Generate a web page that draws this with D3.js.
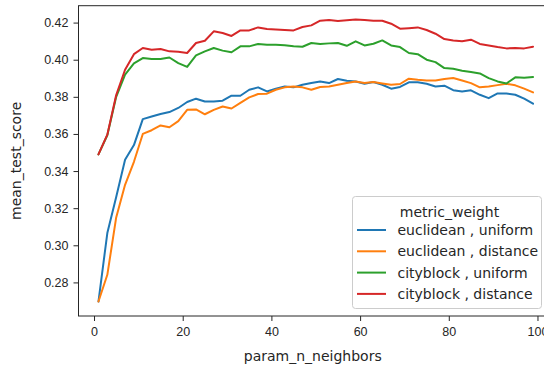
<!DOCTYPE html>
<html>
<head>
<meta charset="utf-8">
<script src="https://cdn.jsdelivr.net/npm/d3@7"></script>
<style>
  body { margin: 0; background: #fff; }
  svg { display: block; font-family: "DejaVu Sans", sans-serif; }
  .axis text { fill: #262626; font-size: 12.5px; }
  .axis path, .axis line { stroke: #262626; }
</style>
</head>
<body>
<script>
// param_n_neighbors: 1, 3, 5, ... 99
var neighbors = d3.range(1, 100, 2);

var euclideanUniform = [
  0.2697, 0.3066, 0.3260, 0.3461, 0.3540, 0.3680, 0.3694, 0.3707, 0.3718, 0.3740,
  0.3772, 0.3790, 0.3775, 0.3775, 0.3779, 0.3806, 0.3806, 0.3838, 0.3851, 0.3829,
  0.3844, 0.3856, 0.3851, 0.3865, 0.3874, 0.3883, 0.3874, 0.3896, 0.3887, 0.3883,
  0.3870, 0.3880, 0.3865, 0.3844, 0.3853, 0.3878, 0.3878, 0.3870, 0.3856, 0.3860,
  0.3836, 0.3829, 0.3835, 0.3811, 0.3793, 0.3818, 0.3818, 0.3811, 0.3790, 0.3763
];
var euclideanDistance = [
  0.2697, 0.2841, 0.3150, 0.3326, 0.3450, 0.3600, 0.3620, 0.3646, 0.3636, 0.3669,
  0.3730, 0.3732, 0.3706, 0.3730, 0.3748, 0.3737, 0.3767, 0.3797, 0.3815, 0.3817,
  0.3838, 0.3851, 0.3856, 0.3851, 0.3838, 0.3853, 0.3856, 0.3865, 0.3874, 0.3883,
  0.3874, 0.3880, 0.3872, 0.3865, 0.3869, 0.3898, 0.3892, 0.3888, 0.3888, 0.3896,
  0.3901, 0.3888, 0.3874, 0.3851, 0.3856, 0.3863, 0.3870, 0.3862, 0.3844, 0.3824
];
var cityblockUniform = [
  0.3490, 0.3593, 0.3800, 0.3920, 0.3980, 0.4009, 0.4004, 0.4004, 0.4012, 0.3982,
  0.3961, 0.4023, 0.4045, 0.4063, 0.4049, 0.4040, 0.4072, 0.4072, 0.4085, 0.4081,
  0.4080, 0.4078, 0.4072, 0.4070, 0.4090, 0.4085, 0.4088, 0.4090, 0.4075, 0.4099,
  0.4077, 0.4086, 0.4104, 0.4077, 0.4068, 0.4036, 0.4030, 0.4000, 0.3987, 0.3955,
  0.3951, 0.3941, 0.3934, 0.3926, 0.3901, 0.3883, 0.3872, 0.3905, 0.3903, 0.3907
];
var cityblockDistance = [
  0.3490, 0.3596, 0.3810, 0.3946, 0.4030, 0.4063, 0.4054, 0.4058, 0.4045, 0.4043,
  0.4036, 0.4090, 0.4102, 0.4153, 0.4144, 0.4128, 0.4158, 0.4158, 0.4174, 0.4165,
  0.4163, 0.4160, 0.4158, 0.4176, 0.4185, 0.4210, 0.4214, 0.4209, 0.4212, 0.4216,
  0.4214, 0.4210, 0.4210, 0.4194, 0.4167, 0.4170, 0.4174, 0.4160, 0.4140, 0.4111,
  0.4104, 0.4099, 0.4108, 0.4085, 0.4077, 0.4068, 0.4061, 0.4063, 0.4061, 0.4070
];

var seriesNames = ["euclidean , uniform", "euclidean , distance", "cityblock , uniform", "cityblock , distance"];
var seriesValues = [euclideanUniform, euclideanDistance, cityblockUniform, cityblockDistance];
var colors = ["#1f77b4", "#ff7f0e", "#2ca02c", "#d62728"];
var xTicks = [0, 20, 40, 60, 80, 100];
var yTicks = [0.28, 0.30, 0.32, 0.34, 0.36, 0.38, 0.40, 0.42];

var W = 544, H = 369;
var plotLeft = 78.5, plotRight = 553, plotTop = 5.7, plotBottom = 316;

var svg = d3.select("body").append("svg")
    .attr("width", W)
    .attr("height", H);

var x = d3.scaleLinear().domain([-3.5, 103.5]).range([plotLeft, plotRight]);
var y = d3.scaleLinear().domain([0.2619, 0.4291]).range([plotBottom, plotTop]);

// axes
svg.append("g")
    .attr("class", "axis")
    .attr("transform", "translate(0," + plotBottom + ")")
    .call(d3.axisBottom(x).tickValues(xTicks).tickSize(5).tickPadding(6).tickFormat(d3.format("d")))
    .call(function(g) { g.select(".domain").remove(); });

svg.append("g")
    .attr("class", "axis")
    .attr("transform", "translate(" + plotLeft + ",0)")
    .call(d3.axisLeft(y).tickValues(yTicks).tickSize(5).tickPadding(5).tickFormat(d3.format(".2f")))
    .call(function(g) { g.select(".domain").remove(); });

// spines
svg.append("rect")
    .attr("x", plotLeft).attr("y", plotTop)
    .attr("width", plotRight - plotLeft).attr("height", plotBottom - plotTop)
    .attr("fill", "none")
    .attr("stroke", "#262626")
    .attr("stroke-width", 1);

var line = d3.line()
    .x(function(d) { return x(d.n); })
    .y(function(d) { return y(d.v); });

svg.append("defs").append("clipPath").attr("id", "clip")
  .append("rect").attr("x", plotLeft).attr("y", plotTop)
  .attr("width", plotRight - plotLeft).attr("height", plotBottom - plotTop);

seriesValues.forEach(function(vals, i) {
    var pts = vals.map(function(v, j) { return {n: neighbors[j], v: v}; });
    svg.append("path")
        .datum(pts)
        .attr("clip-path", "url(#clip)")
        .attr("fill", "none")
        .attr("stroke", colors[i])
        .attr("stroke-width", 2)
        .attr("stroke-linejoin", "round")
        .attr("stroke-linecap", "round")
        .attr("d", line);
});

// axis labels
svg.append("text")
    .attr("x", x(50) - 3)
    .attr("y", 361)
    .attr("text-anchor", "middle")
    .attr("font-size", 14)
    .attr("fill", "#262626")
    .text("param_n_neighbors");

svg.append("text")
    .attr("transform", "translate(21," + ((plotTop + plotBottom) / 2) + ") rotate(-90)")
    .attr("text-anchor", "middle")
    .attr("font-size", 14)
    .attr("fill", "#262626")
    .text("mean_test_score");

// legend
var lg = svg.append("g").attr("transform", "translate(352.5,196.5)");
lg.append("rect")
    .attr("width", 189).attr("height", 112)
    .attr("rx", 3)
    .attr("fill", "#fff").attr("fill-opacity", 0.8)
    .attr("stroke", "#cccccc");
lg.append("text")
    .attr("x", 97).attr("y", 20)
    .attr("text-anchor", "middle")
    .attr("font-size", 14)
    .attr("fill", "#262626")
    .text("metric_weight");
seriesNames.forEach(function(name, i) {
    var cy = 33.5 + i * 21.3;
    lg.append("line")
        .attr("x1", 4.5).attr("x2", 33.5)
        .attr("y1", cy).attr("y2", cy)
        .attr("stroke", colors[i])
        .attr("stroke-width", 2);
    lg.append("text")
        .attr("x", 45).attr("y", cy + 5)
        .attr("font-size", 14)
        .attr("fill", "#262626")
        .text(name);
});
</script>
</body>
</html>
